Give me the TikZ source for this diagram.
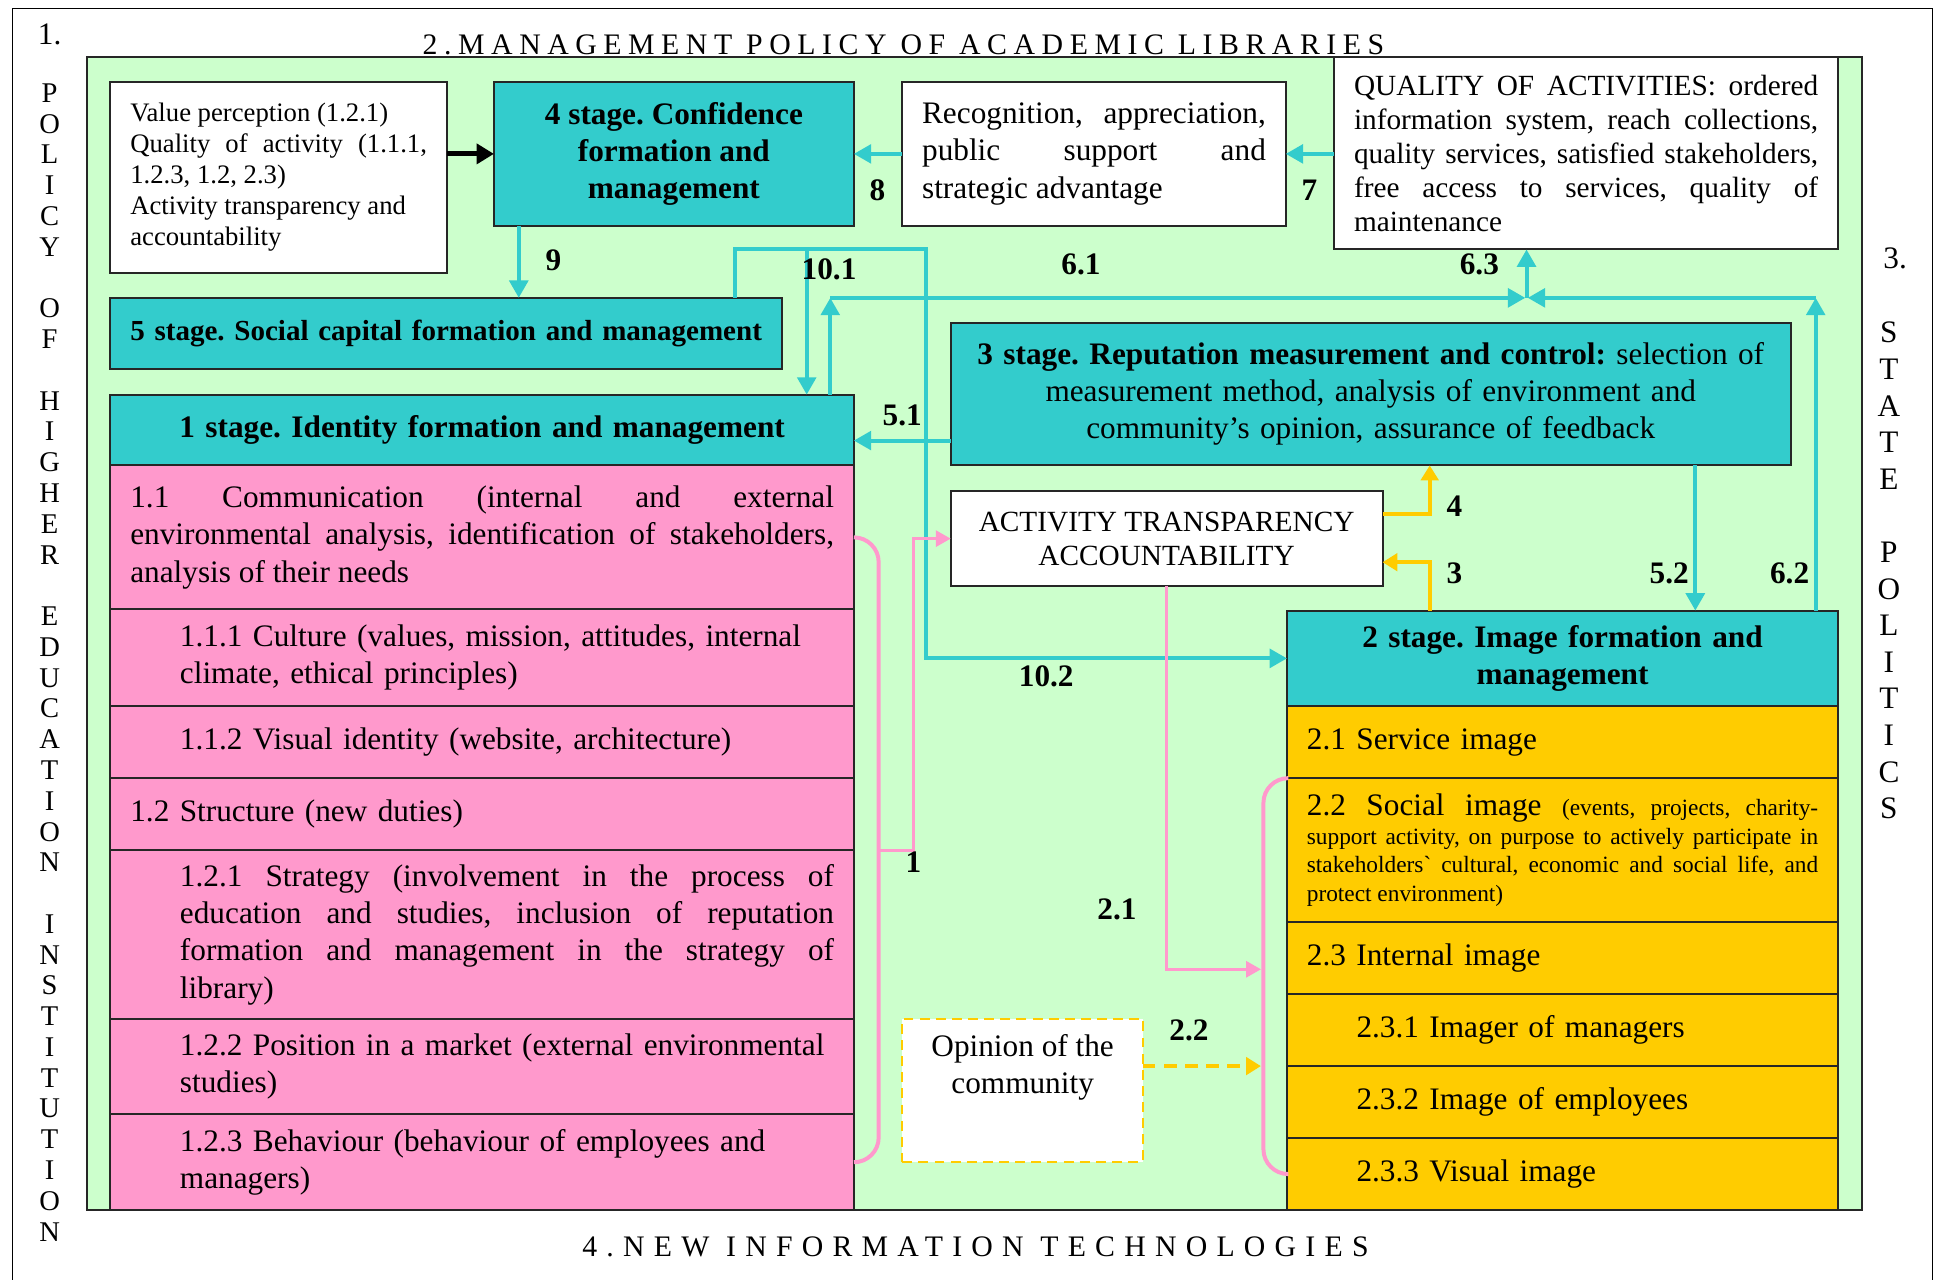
\documentclass[tikz,border=0pt]{standalone}
\usepackage{fontspec}
\setmainfont{Liberation Serif}
\usetikzlibrary{arrows.meta,positioning,calc}

\definecolor{stageteal}{HTML}{33CCCC}
\definecolor{rowpink}{HTML}{FF99CC}
\definecolor{rowgold}{HTML}{FFCC00}
\definecolor{areamint}{HTML}{CCFFCC}

\newcommand{\mainfs}{\fontsize{12.6}{15}\selectfont}
\newcommand{\notefs}{\fontsize{11.8}{13.75}\selectfont}
\newcommand{\smallfs}{\fontsize{10.75}{12.5}\selectfont}
\newcommand{\tinyfs}{\fontsize{9.4}{11.65}\selectfont}
\newcommand{\rowindent}[1]{\leftskip=20pt\relax #1\par}
\hyphenpenalty=10000
\frenchspacing

\begin{document}
\begin{tikzpicture}[x=0.5pt,y=-0.5pt,font=\mainfs,
    box/.style={draw=black!85,line width=0.8pt,outer sep=0pt,inner xsep=8pt,inner ysep=0pt},
    stagebox/.style={box,fill=stageteal,align=center},
    whitebox/.style={box,fill=white},
    pinkrow/.style={box,fill=rowpink,text width=283.5pt,align=left},
    goldrow/.style={box,fill=rowgold,text width=206pt,align=left},
    numlabel/.style={font=\bfseries\mainfs,inner sep=0pt},
    letter/.style={inner sep=0pt},
    tealarrow/.style={draw=stageteal,line width=1.6pt,-{Triangle[length=7pt,width=7.5pt]}},
    goldarrow/.style={draw=rowgold,line width=1.6pt,-{Triangle[length=6pt,width=7pt]}},
    pinkarrow/.style={draw=rowpink,line width=1.1pt,-{Triangle[length=6pt,width=6.5pt]}},
    pinkbrace/.style={draw=rowpink,line width=1.6pt,rounded corners=10pt}]

  \useasboundingbox (0,0) rectangle (1568,1031);
  \draw[line width=0.6pt] (10,1031) -- (10,7) -- (1557,7) -- (1557,1031);
  \draw[fill=areamint,draw=black!85,line width=0.8pt] (70,46) rectangle (1500,975);

  \node (num1) at (40,28) {1.};
  \node (num3) at (1527,208) {3.};
  \node[font={\fontsize{12}{14}\selectfont\addfontfeatures{LetterSpace=22}}] (titletop) at (728,36) {2.MANAGEMENT POLICY OF ACADEMIC LIBRARIES};
  \node[font={\fontsize{12}{14}\selectfont\addfontfeatures{LetterSpace=31}}] (titlebottom) at (786,1005) {4.NEW INFORMATION TECHNOLOGIES};

  \foreach \ch [count=\i] in {P,O,L,I,C,Y,{},O,F,{},H,I,G,H,E,R,{},E,D,U,C,A,T,I,O,N,{},I,N,S,T,I,T,U,T,I,O,N}
    \node[letter,font=\fontsize{11.5}{12}\selectfont] (left\i) at (40,{75+24.8*(\i-1)}) {\ch};
  \foreach \ch [count=\i] in {S,T,A,T,E,{},P,O,L,I,T,I,C,S}
    \node[letter] (right\i) at (1522,{268+29.5*(\i-1)}) {\ch};

  \node[whitebox,anchor=north west,text width=119.5pt,minimum height=77pt,align=justify,font=\smallfs] (value) at (89,66)
    {Value perception (1.2.1)\\Quality of activity (1.1.1,\linebreak 1.2.3, 1.2, 2.3)\\Activity transparency and\\accountability};
  \node[stagebox,anchor=north west,minimum width=145pt,minimum height=58pt,font=\bfseries\mainfs] (stage4) at (398,66)
    {4 stage. Confidence\\formation and\\management};
  \node[whitebox,anchor=north west,text width=138.5pt,minimum height=58pt,align=justify] (recog) at (727,66)
    {Recognition, appreciation,\linebreak public support and\linebreak strategic advantage};
  \node[whitebox,anchor=north west,text width=187pt,minimum height=77.5pt,align=justify,font=\notefs] (quality) at (1075,46)
    {QUALITY OF ACTIVITIES: ordered\linebreak information system, reach collections,\linebreak quality services, satisfied stakeholders,\linebreak free access to services, quality of\linebreak maintenance};
  \node[stagebox,anchor=north west,text width=254.5pt,minimum height=28.5pt,font=\bfseries\fontsize{11.7}{13.5}\selectfont] (stage5) at (89,240)
    {5 stage. Social capital formation and management};

  \node[stagebox,anchor=north west,text width=283.5pt,minimum height=28.5pt,font=\bfseries\mainfs] (stage1) at (89,318)
    {1 stage. Identity formation and management};
  \node[pinkrow,align=justify,minimum height=58pt,below=0pt of stage1] (row11)
    {1.1 Communication (internal and external\linebreak environmental analysis, identification of stakeholders,\linebreak analysis of their needs};
  \node[pinkrow,minimum height=39pt,below=0pt of row11] (row111)
    {\rowindent{1.1.1 Culture (values, mission, attitudes, internal climate, ethical principles)}};
  \node[pinkrow,minimum height=29pt,below=0pt of row111] (row112) {\rowindent{1.1.2 Visual identity (website, architecture)}};
  \node[pinkrow,minimum height=29pt,below=0pt of row112] (row12) {1.2 Structure (new duties)};
  \node[pinkrow,align=justify,minimum height=68pt,below=0pt of row12] (row121)
    {\rowindent{1.2.1 Strategy (involvement in the process of\linebreak education and studies, inclusion of reputation\linebreak formation and management in the strategy of\linebreak library)}};
  \node[pinkrow,minimum height=38.5pt,below=0pt of row121] (row122)
    {\rowindent{1.2.2 Position in a market (external environmental studies)}};
  \node[pinkrow,minimum height=38.5pt,below=0pt of row122] (row123)
    {\rowindent{1.2.3 Behaviour (behaviour of employees and managers)}};

  \node[stagebox,anchor=north west,text width=326pt,inner xsep=6.25pt,minimum height=57.5pt] (stage3) at (766,260)
    {\textbf{3 stage. Reputation measurement and control:} selection of\\measurement method, analysis of environment and\\community's opinion, assurance of feedback};
  \node[whitebox,anchor=north west,minimum width=174pt,minimum height=38pt,align=center,font=\notefs] (activity) at (766,396)
    {ACTIVITY TRANSPARENCY\\ACCOUNTABILITY};

  \node[stagebox,anchor=north west,text width=206pt,minimum height=38.5pt,font=\bfseries\mainfs] (stage2) at (1037,492)
    {2 stage. Image formation and\\management};
  \node[goldrow,minimum height=29pt,below=0pt of stage2] (row21) {2.1 Service image};
  \node[goldrow,align=justify,minimum height=58pt,below=0pt of row21] (row22)
    {2.2 Social image {\tinyfs (events, projects, charity-\linebreak support activity, on purpose to actively participate in\linebreak stakeholders\textasciigrave{} cultural, economic and social life, and\linebreak protect environment)\par}};
  \node[goldrow,minimum height=29pt,below=0pt of row22] (row23) {2.3 Internal image};
  \node[goldrow,minimum height=29pt,below=0pt of row23] (row231) {\rowindent{2.3.1 Imager of managers}};
  \node[goldrow,minimum height=29pt,below=0pt of row231] (row232) {\rowindent{2.3.2 Image of employees}};
  \node[goldrow,minimum height=29pt,below=0pt of row232] (row233) {\rowindent{2.3.3 Visual image}};

  \node[fill=white,draw=rowgold,line width=0.9pt,dash pattern=on 4pt off 2.5pt,outer sep=0pt,anchor=north west,minimum width=97pt,minimum height=57.5pt] (opinion) at (727,821) {};
  \node[align=center] (opiniontext) at (824,860) {Opinion of the\\community};

  \draw[line width=2pt,-{Triangle[length=7pt,width=8pt]}] (value.east |- stage4.west) -- (stage4.west);
  \draw[tealarrow] (recog.west) -- (stage4.east);
  \draw[tealarrow] (quality.west |- recog.east) -- (recog.east);
  \coordinate (out9) at ([xshift=10pt]stage4.south west);
  \draw[tealarrow] (out9) -- (out9 |- stage5.north);

  \coordinate (out10) at ([xshift=-19pt]stage5.north east);
  \coordinate (in101) at ([xshift=-19pt]stage1.north east);
  \coordinate (top10) at (746,201);
  \draw[tealarrow] (out10) |- (top10) |- (stage2.west);
  \draw[tealarrow] (in101 |- top10) -- (in101);

  \coordinate (up61) at ([xshift=-9.5pt]stage1.north east);
  \coordinate (up62) at ([xshift=-9pt]stage2.north east);
  \coordinate (up63) at ([xshift=77.5pt]quality.south west);
  \coordinate (hub6) at ([yshift=-19.5pt]up63);
  \draw[tealarrow] (up61) -- (up61 |- hub6);
  \draw[tealarrow] (up61 |- hub6) -- ([xshift=-0.5pt]hub6);
  \draw[tealarrow] (up62) -- (up62 |- hub6);
  \draw[tealarrow] (up62 |- hub6) -- ([xshift=0.5pt]hub6);
  \draw[tealarrow] (hub6) -- (up63);

  \coordinate (out51) at ([yshift=-18.75pt]stage3.west);
  \draw[tealarrow] (out51) -- (out51 -| stage1.east);
  \coordinate (out52) at ([xshift=-38.5pt]stage3.south east);
  \draw[tealarrow] (out52) -- (out52 |- stage2.north);

  \coordinate (out4) at ([yshift=10pt]activity.east);
  \coordinate (in4) at ([xshift=23.75pt]stage3.south);
  \draw[goldarrow] (out4) -| (in4);
  \coordinate (out3) at ([xshift=57.5pt]stage2.north west);
  \coordinate (in3) at ([yshift=-9.5pt]activity.east);
  \draw[goldarrow] (out3) |- (in3);

  \draw[pinkbrace] (row11.east) -- ++(20,0) |- (row123.east);
  \coordinate (fork1) at ([xshift=10pt]row121.north east);
  \draw[pinkarrow] (fork1) -- ++(28,0) |- (activity.west);
  \draw[pinkbrace] (row22.north west) -- ++(-19,0) |- (row233.west);
  \coordinate (brace2) at ([xshift=-10.5pt,yshift=-4.5pt]row23.west);
  \draw[pinkarrow] (activity.south) |- (brace2);
  \coordinate (out22) at ([yshift=9.75pt]opinion.east);
  \draw[draw=rowgold,line width=1.8pt,dash pattern=on 5pt off 3.5pt,-{Triangle[length=6pt,width=7pt]}] (out22) -- (out22 -| brace2);

  \node[numlabel] (lab8) at (707,153) {8};
  \node[numlabel] (lab7) at (1055,153) {7};
  \node[numlabel] (lab9) at (446,210) {9};
  \node[numlabel] (lab101) at (668,217) {10.1};
  \node[numlabel] (lab61) at (871,213) {6.1};
  \node[numlabel] (lab63) at (1192,213) {6.3};
  \node[numlabel] (lab51) at (727,335) {5.1};
  \node[numlabel] (lab4) at (1172,408) {4};
  \node[numlabel] (lab3) at (1172,462) {3};
  \node[numlabel] (lab52) at (1345,462) {5.2};
  \node[numlabel] (lab62) at (1442,462) {6.2};
  \node[numlabel] (lab102) at (843,545) {10.2};
  \node[numlabel] (lab1) at (736,695) {1};
  \node[numlabel] (lab21) at (900,733) {2.1};
  \node[numlabel] (lab22) at (958,830) {2.2};
\end{tikzpicture}
\end{document}
